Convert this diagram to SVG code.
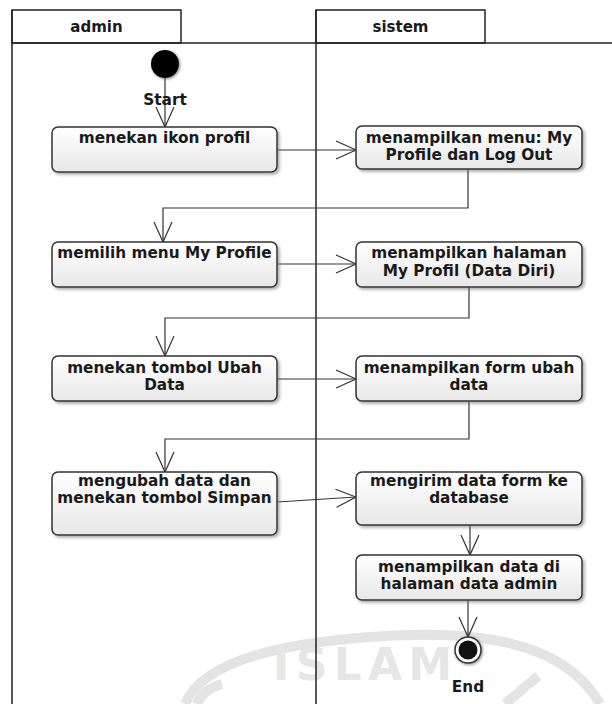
<svg xmlns="http://www.w3.org/2000/svg" width="612" height="704" viewBox="0 0 612 704">
  <style>
    .lane { fill: none; stroke: #222; stroke-width: 1.5; }
    .hdr { fill: #fff; stroke: #222; stroke-width: 1.5; }
    .hdrtxt { font-family: "DejaVu Sans", Verdana, sans-serif; font-weight: bold; font-size: 15px; fill: #1a1a1a; text-anchor: middle; }
    .act { fill: url(#actFill); stroke: #333; stroke-width: 1.5; filter: url(#shadow); }
    .lbl { font-family: "DejaVu Sans", Verdana, sans-serif; font-weight: bold; font-size: 15.3px; fill: #1a1a1a; text-anchor: middle; }
    .flow { fill: none; stroke: #333; stroke-width: 1.2; marker-end: url(#open); }
    .wm { fill: none; stroke: #e4e4e4; stroke-width: 10; }
    .wmtxt { font-family: "DejaVu Sans", sans-serif; font-weight: bold; font-size: 44px; fill: #e6e6e6; }
  </style>
  <defs>
    <linearGradient id="actFill" x1="0" y1="0" x2="0" y2="1">
      <stop offset="0" stop-color="#ffffff"/>
      <stop offset="1" stop-color="#e8e8e8"/>
    </linearGradient>
    <filter id="shadow" x="-10%" y="-20%" width="120%" height="150%">
      <feDropShadow dx="2" dy="2" stdDeviation="1.5" flood-color="#777" flood-opacity="0.6"/>
    </filter>
    <filter id="glow" x="-50%" y="-50%" width="200%" height="200%">
      <feDropShadow dx="1" dy="1" stdDeviation="1.5" flood-color="#555" flood-opacity="0.7"/>
    </filter>
    <marker id="open" markerUnits="userSpaceOnUse" markerWidth="24" markerHeight="24" refX="0" refY="0" orient="auto" viewBox="-22 -12 24 24" overflow="visible">
      <path d="M-20,-9 L0,0 L-20,9" fill="none" stroke="#333" stroke-width="1.2"/>
    </marker>
  </defs>

  <rect width="612" height="704" fill="#fff"/>

  <!-- faint background emblem -->
  <g id="emblem">
    <path class="wm" d="M185,704 C200,668 262,640 410,635 C520,632 575,660 600,704"/>
    <path class="wm" stroke-width="8" d="M222,684 C208,688 200,696 197,704"/>
    <path class="wm" stroke-width="9" d="M538,676 L505,704"/>
    <text class="wmtxt" x="273" y="680" textLength="179" lengthAdjust="spacing">ISLAM</text>
  </g>

  <!-- swimlanes -->
  <g id="lanes">
    <rect class="hdr" x="12" y="10" width="169" height="33"/>
    <rect class="hdr" x="316" y="10" width="169" height="33"/>
    <path class="lane" d="M12,43 H612 M12,10 V704 M316,10 V704"/>
    <text class="hdrtxt" x="96.5" y="32">admin</text>
    <text class="hdrtxt" x="400.5" y="32">sistem</text>
  </g>

  <!-- connectors -->
  <g id="connectors">
    <path class="flow" d="M165,72 V127"/>
    <path class="flow" d="M277,150 H356"/>
    <path class="flow" d="M468,169 V208 H163 V242"/>
    <path class="flow" d="M277,264 H356"/>
    <path class="flow" d="M469,287 V318 H165 V356"/>
    <path class="flow" d="M277,379 H356"/>
    <path class="flow" d="M469,401 V439 H165 V472"/>
    <path class="flow" d="M277,502 L356,497"/>
    <path class="flow" d="M470,525 V555"/>
    <path class="flow" d="M468,600 V637"/>
  </g>

  <g id="start">
    <circle cx="165" cy="64" r="14" fill="#000" filter="url(#glow)"/>
    <text class="lbl" x="165" y="105">Start</text>
  </g>

  <g id="a1">
    <rect class="act" x="52" y="127" width="225" height="45" rx="6"/>
    <text class="lbl" x="164.5" y="143">menekan ikon profil</text>
  </g>
  <g id="s1">
    <rect class="act" x="356" y="126" width="226" height="43" rx="6"/>
    <text class="lbl" x="469" y="142.5">menampilkan menu: My</text>
    <text class="lbl" x="469" y="160">Profile dan Log Out</text>
  </g>
  <g id="a2">
    <rect class="act" x="52" y="242" width="225" height="45" rx="6"/>
    <text class="lbl" x="164.5" y="258">memilih menu My Profile</text>
  </g>
  <g id="s2">
    <rect class="act" x="356" y="242" width="226" height="45" rx="6"/>
    <text class="lbl" x="469" y="258">menampilkan halaman</text>
    <text class="lbl" x="469" y="276">My Profil (Data Diri)</text>
  </g>
  <g id="a3">
    <rect class="act" x="52" y="356" width="225" height="45" rx="6"/>
    <text class="lbl" x="164.5" y="373">menekan tombol Ubah</text>
    <text class="lbl" x="164.5" y="390">Data</text>
  </g>
  <g id="s3">
    <rect class="act" x="356" y="356" width="226" height="45" rx="6"/>
    <text class="lbl" x="469" y="373">menampilkan form ubah</text>
    <text class="lbl" x="469" y="390">data</text>
  </g>
  <g id="a4">
    <rect class="act" x="52" y="472" width="225" height="63" rx="6"/>
    <text class="lbl" x="164.5" y="486">mengubah data dan</text>
    <text class="lbl" x="164.5" y="503">menekan tombol Simpan</text>
  </g>
  <g id="s4">
    <rect class="act" x="356" y="472" width="226" height="53" rx="6"/>
    <text class="lbl" x="469" y="486">mengirim data form ke</text>
    <text class="lbl" x="469" y="503">database</text>
  </g>
  <g id="s5">
    <rect class="act" x="356" y="555" width="226" height="45" rx="6"/>
    <text class="lbl" x="469" y="571.5">menampilkan data di</text>
    <text class="lbl" x="469" y="588.5">halaman data admin</text>
  </g>

  <g id="end">
    <circle cx="468" cy="650" r="13" fill="#fff" stroke="#333" stroke-width="1.5" filter="url(#glow)"/>
    <circle cx="468" cy="650" r="9.5" fill="#111"/>
    <text class="lbl" x="468" y="692">End</text>
  </g>
</svg>
